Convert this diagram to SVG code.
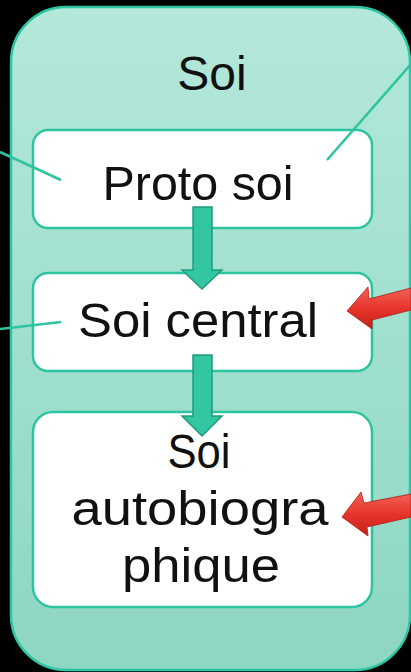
<svg xmlns="http://www.w3.org/2000/svg" width="411" height="672" viewBox="0 0 411 672">
<defs>
<linearGradient id="pg" x1="0" y1="0" x2="0" y2="1">
<stop offset="0" stop-color="#b4e8da"/>
<stop offset="1" stop-color="#8dd6c2"/>
</linearGradient>
<linearGradient id="rg" x1="0" y1="0" x2="0" y2="1">
<stop offset="0" stop-color="#f0645a"/>
<stop offset="0.5" stop-color="#e8352b"/>
<stop offset="1" stop-color="#c42018"/>
</linearGradient>
</defs>
<style>
.box{fill:#ffffff;stroke:#2ec4a0;stroke-width:2.5}
.t{font-family:"Liberation Sans",Arial,sans-serif;font-size:48px;fill:#111;text-anchor:middle}
.ln{stroke:#2ec4a0;stroke-width:2.5;fill:none}
.ga{fill:#33c6a2;stroke:#239a7e;stroke-width:1.5}
.ra{fill:url(#rg);stroke:#b01a12;stroke-width:0.8}
</style>
<rect width="411" height="672" fill="#000"/>
<g id="panel">
<rect x="11" y="7" width="399" height="663" rx="55" ry="55" fill="url(#pg)" stroke="#2cc6a4" stroke-width="2.5"/>
<text class="t" x="212" y="90" font-size="50">Soi</text>
</g>
<g id="proto">
<rect class="box" x="33" y="130" width="339" height="98" rx="15" ry="15"/>
<text class="t" x="198" y="200" textLength="191" lengthAdjust="spacingAndGlyphs">Proto soi</text>
</g>
<g id="central">
<rect class="box" x="33" y="273" width="339" height="98" rx="15" ry="15"/>
<text class="t" x="198" y="337" textLength="240" lengthAdjust="spacingAndGlyphs">Soi central</text>
</g>
<g id="autobio">
<rect class="box" x="33" y="412" width="339" height="195" rx="20" ry="20"/>
<text class="t" x="199" y="468" textLength="63" lengthAdjust="spacingAndGlyphs">Soi</text>
<text class="t" x="200" y="525" textLength="257" lengthAdjust="spacingAndGlyphs">autobiogra</text>
<text class="t" x="201" y="582" textLength="158" lengthAdjust="spacingAndGlyphs">phique</text>
</g>
<g id="connectors">
<line class="ln" x1="0" y1="152" x2="61" y2="180"/>
<line class="ln" x1="0" y1="329" x2="61" y2="322"/>
<line class="ln" x1="411" y1="64" x2="327" y2="160"/>
</g>
<g id="arrows">
<polygon class="ga" points="193,207 212,207 212,270 222,270 202,289 182,270 193,270"/>
<polygon class="ga" points="193,355 212,355 212,416 222,416 202,436 182,416 193,416"/>
<polygon class="ra" points="347,311 368,287 369,299 411,288 411,310 372,320 372,329"/>
<polygon class="ra" points="342,517 361,492 364,503 411,494 411,517 367,527 368,536"/>
</g>
</svg>
